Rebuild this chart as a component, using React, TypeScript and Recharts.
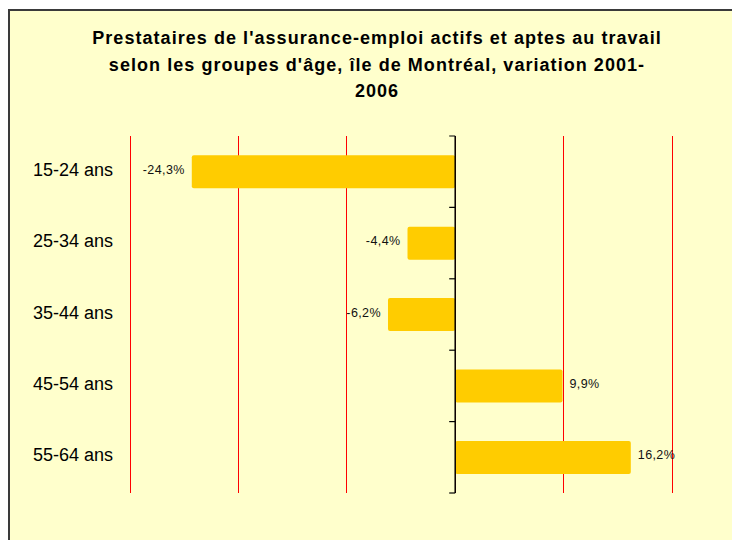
import React from 'react';
import {
  ComposedChart,
  Bar,
  XAxis,
  YAxis,
  CartesianGrid,
  ReferenceLine,
  LabelList,
  Scatter,
} from 'recharts';

// ============================================
// DATA
// ============================================

const TITLE_LINES = [
  "Prestataires de l'assurance-emploi actifs et aptes au travail",
  "selon les groupes d'âge, île de Montréal, variation 2001-",
  '2006',
];

const AGE_GROUPS = ['15-24 ans', '25-34 ans', '35-44 ans', '45-54 ans', '55-64 ans'];
const VARIATION = [-24.3, -4.4, -6.2, 9.9, 16.2];

const X_DOMAIN: [number, number] = [-30, 20];
const X_TICKS = [-30, -20, -10, 0, 10, 20];

// category boundaries, used for the small tick marks on the zero axis
const GROUP_EDGES = [0, 1, 2, 3, 4, 5];

const chartData = AGE_GROUPS.map((name, i) => ({ name, value: VARIATION[i] }));
const edgeData = GROUP_EDGES.map((pos) => ({ value: 0, pos }));

// ============================================
// CONSTANTS
// ============================================

const FONT = "'Liberation Sans', Arial, sans-serif";
const BG = '#FFFFCC';
const BAR_COLOR = '#FFCC00';
const GRID_COLOR = '#FF0000';

const formatPct = (v: number) => `${v.toFixed(1).replace('.', ',')}%`;

// ============================================
// HELPERS
// ============================================

function CategoryTick(props: any) {
  const { x, y, payload } = props;
  return (
    <text
      x={x}
      y={y}
      dy={-2}
      textAnchor="end"
      dominantBaseline="central"
      fontFamily={FONT}
      fontSize={18}
      fill="#000"
    >
      {payload.value}
    </text>
  );
}

function ValueLabel(props: any) {
  const { x, y, width, height, value } = props;
  const left = Math.min(x, x + width);
  const right = Math.max(x, x + width);
  const neg = value < 0;
  return (
    <text
      x={neg ? left - 7 : right + 7}
      y={y + height / 2}
      dy={-2}
      textAnchor={neg ? 'end' : 'start'}
      dominantBaseline="central"
      fontFamily={FONT}
      fontSize={12.5}
      letterSpacing={0.4}
      fill="#111"
    >
      {formatPct(value)}
    </text>
  );
}

function EdgeTick(props: any) {
  const { cx, cy } = props;
  if (cx == null || cy == null) return null;
  return <line x1={cx - 6} x2={cx} y1={cy} y2={cy} stroke="#000" strokeWidth={1.2} />;
}

// ============================================
// COMPONENT
// ============================================

export default function App() {
  return (
    <div
      style={{
        position: 'fixed',
        left: 8,
        top: 9,
        width: 760,
        height: 560,
        border: '2px solid #3a3a3a',
        background: BG,
        fontFamily: FONT,
      }}
    >
      <div
        style={{
          position: 'absolute',
          top: 14,
          left: 0,
          width: 734,
          textAlign: 'center',
          fontWeight: 'bold',
          fontSize: 18,
          lineHeight: '26.5px',
          letterSpacing: 1.05,
          color: '#000',
        }}
      >
        {TITLE_LINES.map((line) => (
          <div key={line}>{line}</div>
        ))}
      </div>

      <div style={{ position: 'absolute', top: 0, left: 0 }}>
        <ComposedChart
          width={722}
          height={529}
          data={chartData}
          layout="vertical"
          margin={{ top: 125, right: 60, bottom: 47, left: 0 }}
          barCategoryGap="27%"
        >
          <CartesianGrid
            horizontal={false}
            stroke={GRID_COLOR}
            strokeWidth={1}
            shapeRendering="crispEdges"
            yAxisId="cat"
          />
          <XAxis
            type="number"
            dataKey="value"
            domain={X_DOMAIN}
            ticks={X_TICKS}
            allowDataOverflow
            hide
          />
          <YAxis
            yAxisId="cat"
            type="category"
            dataKey="name"
            width={120}
            axisLine={false}
            tickLine={false}
            tickSize={0}
            tickMargin={17}
            tick={<CategoryTick />}
            interval={0}
          />
          <YAxis
            yAxisId="edge"
            type="number"
            dataKey="pos"
            domain={[0, 5]}
            reversed
            hide
          />
          <Bar
            yAxisId="cat"
            dataKey="value"
            fill={BAR_COLOR}
            radius={2}
            isAnimationActive={false}
          >
            <LabelList dataKey="value" content={<ValueLabel />} />
          </Bar>
          <ReferenceLine x={0} yAxisId="cat" stroke="#000" strokeWidth={1.5} />
          <Scatter
            data={edgeData}
            yAxisId="edge"
            dataKey="pos"
            shape={<EdgeTick />}
            isAnimationActive={false}
          />
        </ComposedChart>
      </div>
    </div>
  );
}
